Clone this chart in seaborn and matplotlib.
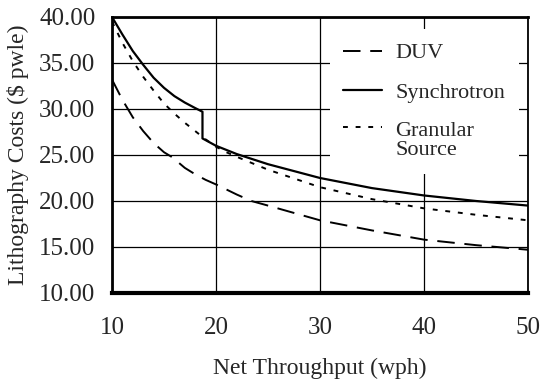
import numpy as np
import pandas as pd
import matplotlib
matplotlib.use('Agg')
import matplotlib.pyplot as plt
import seaborn as sns

# values
duv_x = [10, 11, 12, 13, 14, 15, 15.8, 17, 18, 19, 20, 22, 23.4, 25, 30, 35, 40, 45, 50]
duv_y = [33.2, 31.0, 29.1, 27.6, 26.3, 25.3, 24.75, 23.6, 22.9, 22.3, 21.8, 20.7, 20.0, 19.5, 17.9, 16.8, 15.8, 15.2, 14.7]

sync_x = [10, 11, 12, 13, 14, 15, 16, 17, 18, 18.7, 18.7, 20, 22, 25, 30, 35, 40, 45, 50]
sync_y = [40.0, 38.1, 36.3, 34.8, 33.4, 32.3, 31.4, 30.7, 30.1, 29.7, 26.8, 26.0, 25.1, 24.0, 22.5, 21.4, 20.6, 20.0, 19.5]

gran_x = [10, 11, 12, 13, 14, 15, 16, 17, 18, 19, 20, 21, 22, 25, 30, 35, 40, 45, 50]
gran_y = [39.5, 37.2, 35.2, 33.5, 32.0, 30.6, 29.5, 28.5, 27.6, 26.7, 25.9, 25.3, 24.8, 23.4, 21.5, 20.2, 19.2, 18.5, 17.9]

labels = ['DUV', 'Synchrotron', 'Granular\nSource']

sns.set_style('white')
plt.rcParams['font.family'] = ['Liberation Serif', 'DejaVu Serif']

fig = plt.figure(figsize=(5.4, 3.81), dpi=100)
ax = fig.add_axes([0.2074, 0.231, 0.7704, 0.7244])

sns.lineplot(x=duv_x, y=duv_y, ax=ax, color='black', lw=1.4,
             estimator=None, sort=False, label=labels[0], zorder=3)
ax.lines[-1].set_dashes([9, 5])
sns.lineplot(x=sync_x, y=sync_y, ax=ax, color='black', lw=1.6,
             estimator=None, sort=False, label=labels[1], zorder=3)
sns.lineplot(x=gran_x, y=gran_y, ax=ax, color='black', lw=1.4,
             estimator=None, sort=False, label=labels[2], zorder=3)
ax.lines[-1].set_dashes([2.5, 4])

ax.set_xlim(10, 50)
ax.set_ylim(10, 40)
ax.set_xticks([10, 20, 30, 40, 50])
ax.set_xticks([15, 25, 35, 45], minor=True)
ax.set_yticks(np.arange(10, 41, 5))
ax.set_yticklabels(['%.2f' % v for v in np.arange(10, 41, 5)])
ax.grid(True, color='black', lw=0.9)
ax.set_axisbelow(True)
ax.tick_params(axis='x', which='both', direction='in', length=3, width=2, labelsize=18, pad=17)
ax.tick_params(axis='y', length=0, labelsize=18, pad=12)
for s in ax.spines.values():
    s.set_color('black')
    s.set_linewidth(1.3)
ax.spines['bottom'].set_linewidth(3)
ax.spines['top'].set_linewidth(2)
ax.spines['left'].set_linewidth(2)

ax.set_xlabel('Net Throughput (wph)', fontsize=17, labelpad=14)
ax.set_ylabel('Lithography Costs ($ pwle)', fontsize=17, labelpad=7)

leg = ax.legend(loc='upper left', bbox_to_anchor=(0.524, 0.955), fontsize=16,
                frameon=True, fancybox=False, framealpha=1, facecolor='white',
                edgecolor='none', handlelength=1.75, handletextpad=0.6,
                borderpad=0.6, labelspacing=0.85, borderaxespad=0)
leg.set_zorder(2.5)
for t in leg.get_texts():
    t.set_linespacing(1.05)
# put the dotted handle next to the first line of its two-line label
h = leg.legend_handles[2]
h.set_ydata(np.asarray(h.get_ydata()) + 9.5)

plt.savefig('out.png', dpi=100)
